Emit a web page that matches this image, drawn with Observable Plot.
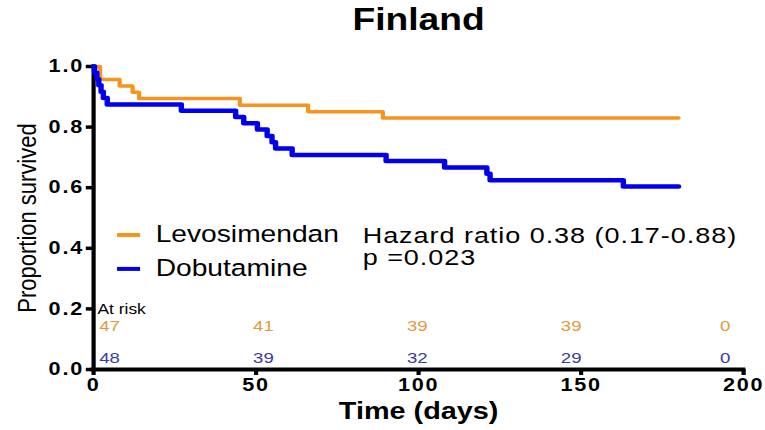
<!DOCTYPE html>
<html>
<head>
<meta charset="utf-8">
<script src="https://cdn.jsdelivr.net/npm/d3@7"></script>
<script src="https://cdn.jsdelivr.net/npm/@observablehq/plot@0.6"></script>
<style>
  body { margin: 0; background: #fff; }
  #chart g[aria-label="y-axis tick label"] text,
  #chart g[aria-label="x-axis tick label"] text { letter-spacing: 1.5px; }
  #chart g.stat-text text { letter-spacing: 0.8px; }
</style>
</head>
<body>
<div id="chart"></div>
<script>
// Kaplan–Meier survival, Finland subgroup
const groups = ["Levosimendan", "Dobutamine"];
const lineColors = ["#f7941d", "#0000ee"];
const riskColors = ["#e39a3c", "#3a3aa8"];

// step points: time (days) and proportion surviving
const levoTimes = [0, 2, 8, 12, 14, 45, 66, 89, 180];
const levoSurvival = [1, 0.957, 0.936, 0.915, 0.894, 0.872, 0.851, 0.830, 0.830];

const dobuTimes = [0, 0.3, 1, 1.6, 2.3, 3, 4.2, 27, 43.7, 46.2, 50.4, 53.4, 54.9, 56, 61.1, 90, 108, 121, 122, 163, 180];
const dobuSurvival = [1, 0.979, 0.958, 0.938, 0.917, 0.896, 0.875, 0.854, 0.833, 0.813, 0.792, 0.771, 0.750, 0.729, 0.708, 0.688, 0.667, 0.646, 0.625, 0.604, 0.604];

// numbers at risk
const riskTimes = [0, 50, 100, 150, 200];
const levoAtRisk = [47, 41, 39, 39, 0];
const dobuAtRisk = [48, 39, 32, 29, 0];

// axis ticks
const xTicks = [0, 50, 100, 150, 200];
const yTicks = [0, 0.2, 0.4, 0.6, 0.8, 1.0];

const title = "Finland";
const xLabel = "Time (days)";
const yLabel = "Proportion survived";
const statText = "Hazard ratio 0.38 (0.17-0.88)\np =0.023";

const FONT = "'Liberation Sans', Arial, Helvetica, sans-serif";

// the figure is drawn narrow and widened horizontally
const STRETCH = 1.2;
const W = 765, H = 430;

const curve = (times, surv, group) => times.map((t, i) => ({group, time: t, survival: surv[i]}));
const levoRows = curve(levoTimes, levoSurvival, groups[0]);
const dobuRows = curve(dobuTimes, dobuSurvival, groups[1]);

const riskRows = riskTimes.flatMap((t, i) => [
  {group: groups[0], time: t, n: levoAtRisk[i]},
  {group: groups[1], time: t, n: dobuAtRisk[i]}
]);

// layout helpers (data units)
const riskX = t => 4.9 + 0.947 * t;
const riskY = {[groups[0]]: 0.143, [groups[1]]: 0.038};
const legendY = {[groups[0]]: 0.444, [groups[1]]: 0.332};
const legendRows = groups.map((g, i) => ({group: g, color: lineColors[i]}));

const chart = Plot.plot({
  width: W / STRETCH,
  height: H,
  marginLeft: 93 / STRETCH,
  marginRight: 22 / STRETCH,
  marginTop: 66,
  marginBottom: 61,
  style: {fontFamily: FONT, background: "white", color: "black"},
  x: {domain: [0, 200]},
  y: {domain: [0, 1]},
  marks: [
    Plot.axisY({ticks: yTicks, tickFormat: d3.format(".1f"), tickSize: 6, tickPadding: 2,
      strokeWidth: 3.5, fontSize: 18, fontWeight: "bold", label: null}),
    Plot.axisX({ticks: xTicks, tickSize: 6, tickPadding: 3,
      strokeWidth: 3.5, fontSize: 18, fontWeight: "bold", label: null}),
    Plot.ruleX([0], {y1: 0, y2: 1, strokeWidth: 3.5, strokeLinecap: "square"}),
    Plot.ruleY([0], {x1: 0, x2: 200, strokeWidth: 4, strokeLinecap: "square"}),

    // survival curves
    Plot.line(levoRows, {x: "time", y: "survival", stroke: lineColors[0], strokeWidth: 3.5, curve: "step-after"}),
    Plot.line(dobuRows, {x: "time", y: "survival", stroke: lineColors[1], strokeWidth: 4.5, curve: "step-after"}),

    // legend
    Plot.ruleY(legendRows, {y: d => legendY[d.group], x1: 7.4, x2: 14.5, stroke: "color", strokeWidth: 4}),
    Plot.text(legendRows, {x: 19.1, y: d => legendY[d.group], text: "group", textAnchor: "start",
      fontSize: 23.5, fill: "black"}),

    // statistics
    Plot.text([statText], {x: 82.8, y: 0.405, text: d => d, textAnchor: "start", lineAnchor: "middle",
      lineHeight: 1.0, fontSize: 22.5, fill: "black", className: "stat-text"}),

    // numbers at risk
    Plot.text(["At risk"], {x: 1.2, y: 0.2, text: d => d, textAnchor: "start", fontSize: 14.5, fill: "black"}),
    Plot.text(riskRows, {x: d => riskX(d.time), y: d => riskY[d.group], text: d => String(d.n),
      fill: d => riskColors[groups.indexOf(d.group)], fontSize: 15.5}),

    // titles
    Plot.text([title], {frameAnchor: "top", dy: -46, lineAnchor: "middle", text: d => d,
      fontSize: 31, fontWeight: "bold"}),
    Plot.text([xLabel], {frameAnchor: "bottom", dy: 42, lineAnchor: "middle", text: d => d,
      fontSize: 24, fontWeight: "bold"}),
    Plot.text([yLabel], {frameAnchor: "left", dx: -55, rotate: -90, textAnchor: "middle",
      lineAnchor: "middle", text: d => d, fontSize: 22})
  ]
});

chart.setAttribute("preserveAspectRatio", "none");
chart.setAttribute("width", W);
chart.setAttribute("height", H);
chart.style.width = W + "px";
chart.style.height = H + "px";
chart.style.maxWidth = "none";
document.getElementById("chart").appendChild(chart);
</script>
</body>
</html>
